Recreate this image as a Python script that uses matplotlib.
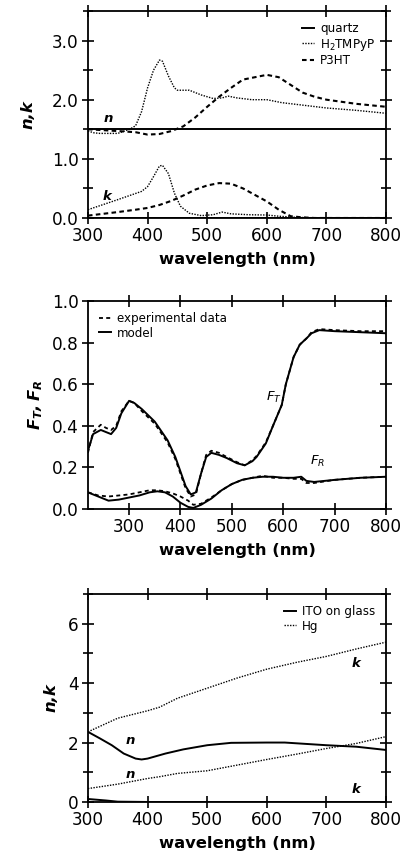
import numpy as np
import matplotlib
matplotlib.use("Agg")
import matplotlib.pyplot as plt
from matplotlib.ticker import MultipleLocator, FormatStrFormatter

plt.rcParams["font.family"] = ["DejaVu Sans"]
plt.rcParams["mathtext.fontset"] = "custom"
plt.rcParams["mathtext.rm"] = "DejaVu Sans"
plt.rcParams["mathtext.it"] = "DejaVu Sans:italic"
plt.rcParams["mathtext.bf"] = "DejaVu Sans:italic:bold"

# ---- panel 1: n,k of quartz, H2TMPyP, P3HT ----
wl_quartz = [300, 400, 500, 600, 700, 800]
n_quartz = [1.51, 1.51, 1.51, 1.51, 1.51, 1.51]
k_quartz = [0.0, 0.0, 0.0, 0.0, 0.0, 0.0]

wl_h2_n = [300, 310, 320, 350, 370, 380, 390, 400, 410, 420, 425, 435, 445, 450,
           470, 490, 510, 525, 535, 550, 575, 600, 625, 650, 700, 750, 800]
n_h2 = [1.47, 1.44, 1.43, 1.43, 1.50, 1.56, 1.80, 2.20, 2.50, 2.67, 2.65, 2.40, 2.20, 2.16,
        2.16, 2.08, 2.02, 2.03, 2.06, 2.03, 2.00, 2.00, 1.95, 1.92, 1.86, 1.82, 1.77]
wl_h2_k = [300, 350, 390, 400, 410, 420, 425, 435, 445, 455, 470, 490, 510, 525,
           540, 570, 600, 620, 650, 700, 800]
k_h2 = [0.14, 0.31, 0.45, 0.53, 0.70, 0.88, 0.89, 0.75, 0.42, 0.20, 0.08, 0.04, 0.055, 0.10,
        0.07, 0.055, 0.05, 0.03, 0.01, 0.0, 0.0]

wl_p3ht = [300, 350, 380, 400, 420, 440, 460, 480, 500, 520, 540, 560, 580, 600,
           620, 640, 660, 680, 700, 750, 800]
n_p3ht = [1.50, 1.47, 1.45, 1.41, 1.42, 1.47, 1.55, 1.70, 1.88, 2.05, 2.20, 2.34, 2.38, 2.42,
          2.38, 2.25, 2.12, 2.05, 2.00, 1.93, 1.88]
k_p3ht = [0.04, 0.10, 0.14, 0.17, 0.22, 0.29, 0.38, 0.48, 0.55, 0.59, 0.58, 0.50, 0.39, 0.28,
          0.14, 0.03, 0.01, 0.0, 0.0, 0.0, 0.0]

# ---- panel 2: F_T, F_R experimental vs model ----
wl_ft = [220, 230, 245, 255, 265, 275, 285, 300, 310, 325, 350, 375, 390, 400, 410, 420,
         430, 440, 450, 460, 475, 490, 510, 525, 540, 548, 566, 580, 597, 605, 620, 632,
         645, 655, 670, 700, 750, 800]
ft_model = [0.28, 0.36, 0.38, 0.37, 0.36, 0.39, 0.46, 0.52, 0.51, 0.48, 0.42, 0.33, 0.25, 0.18,
            0.11, 0.07, 0.08, 0.17, 0.25, 0.27, 0.26, 0.245, 0.22, 0.21, 0.23, 0.25, 0.315,
            0.40, 0.50, 0.60, 0.73, 0.79, 0.82, 0.845, 0.86, 0.855, 0.85, 0.845]
ft_exp = [0.27, 0.37, 0.405, 0.39, 0.38, 0.40, 0.47, 0.52, 0.51, 0.47, 0.41, 0.32, 0.24, 0.17,
          0.10, 0.06, 0.07, 0.17, 0.26, 0.28, 0.27, 0.25, 0.225, 0.21, 0.235, 0.255, 0.32,
          0.40, 0.50, 0.60, 0.73, 0.79, 0.82, 0.85, 0.865, 0.86, 0.855, 0.855]

wl_fr = [220, 240, 260, 280, 300, 320, 340, 355, 370, 385, 400, 415, 425, 440, 460, 480,
         500, 520, 540, 560, 580, 600, 620, 635, 645, 660, 700, 750, 800]
fr_model = [0.08, 0.06, 0.04, 0.045, 0.055, 0.065, 0.08, 0.085, 0.08, 0.06, 0.03, 0.01, 0.005,
            0.02, 0.05, 0.09, 0.12, 0.14, 0.15, 0.155, 0.155, 0.15, 0.15, 0.155, 0.135, 0.13,
            0.14, 0.15, 0.155]
fr_exp = [0.08, 0.065, 0.06, 0.065, 0.07, 0.08, 0.09, 0.09, 0.085, 0.075, 0.06, 0.04, 0.02,
          0.025, 0.055, 0.09, 0.12, 0.14, 0.15, 0.16, 0.15, 0.15, 0.145, 0.145, 0.125, 0.125,
          0.14, 0.15, 0.155]

# ---- panel 3: ITO on glass and Hg ----
wl_ito = [300, 320, 340, 360, 380, 390, 400, 430, 460, 500, 540, 600, 630, 700, 750, 800]
n_ito = [2.36, 2.14, 1.91, 1.63, 1.46, 1.43, 1.46, 1.63, 1.77, 1.91, 1.99, 2.0, 2.0, 1.91,
         1.86, 1.75]
wl_ito_k = [300, 330, 350, 400, 500, 600, 700, 800]
k_ito = [0.10, 0.05, 0.01, 0.0, 0.0, 0.0, 0.0, 0.0]

wl_hg = [300, 350, 400, 420, 450, 500, 550, 600, 650, 700, 750, 800]
n_hg = [0.45, 0.60, 0.79, 0.85, 0.96, 1.05, 1.24, 1.43, 1.61, 1.80, 1.97, 2.20]
k_hg = [2.36, 2.82, 3.07, 3.19, 3.49, 3.83, 4.17, 4.47, 4.70, 4.90, 5.15, 5.38]

TICK_FS = 12.2
LABEL_FS = 11.8
LEG_FS = 8.6
DOT = (0, (1, 1))
DASH = (0, (2.2, 1.6))
DASH2 = (0, (2.2, 1.8))


def style_axes(ax):
    for sp in ax.spines.values():
        sp.set_linewidth(1.3)
    ax.tick_params(which="both", direction="inout", top=True, right=True,
                   width=1.2, labelsize=TICK_FS, pad=2)
    ax.tick_params(which="major", length=9)
    ax.tick_params(which="minor", length=7)
    ax.set_xlabel("wavelength (nm)", fontsize=LABEL_FS, fontweight="bold", labelpad=5)


def add_legend(ax, loc):
    ax.legend(loc=loc, frameon=False, fontsize=LEG_FS, handlelength=1.0,
              handletextpad=0.5, labelspacing=0.15, borderaxespad=0.5)


fig = plt.figure(figsize=(4.09, 8.64), dpi=100)
ax1 = fig.add_axes([0.215, 0.7477, 0.729, 0.2396])
ax2 = fig.add_axes([0.215, 0.4109, 0.729, 0.2407])
ax3 = fig.add_axes([0.215, 0.0718, 0.729, 0.2407])

# panel 1
ax1.plot(wl_quartz, n_quartz, "k-", lw=1.4, label="quartz")
ax1.plot(wl_h2_n, n_h2, color="k", ls=DOT, lw=1.0, label="H$_2$TMPyP")
ax1.plot(wl_p3ht, n_p3ht, color="k", ls=DASH, lw=1.5, label="P3HT")
ax1.plot(wl_quartz, k_quartz, "k-", lw=1.4)
ax1.plot(wl_h2_k, k_h2, color="k", ls=DOT, lw=1.0)
ax1.plot(wl_p3ht, k_p3ht, color="k", ls=DASH, lw=1.5)
ax1.text(327, 1.62, "n", fontsize=9.5, style="italic", fontweight="bold")
ax1.text(325, 0.30, "k", fontsize=9.5, style="italic", fontweight="bold")
ax1.set_xlim(300, 800)
ax1.set_ylim(0, 3.5)
ax1.xaxis.set_major_locator(MultipleLocator(100))
ax1.yaxis.set_major_locator(MultipleLocator(1.0))
ax1.yaxis.set_minor_locator(MultipleLocator(0.5))
ax1.yaxis.set_major_formatter(FormatStrFormatter("%.1f"))
ax1.set_ylabel("n,k", fontsize=LABEL_FS, fontweight="bold", style="italic", labelpad=12)
add_legend(ax1, "upper right")
style_axes(ax1)

# panel 2
ax2.plot(wl_ft, ft_exp, color="k", ls=DASH2, lw=1.3, label="experimental data")
ax2.plot(wl_ft, ft_model, "k-", lw=1.4, label="model")
ax2.plot(wl_fr, fr_exp, color="k", ls=DASH2, lw=1.3)
ax2.plot(wl_fr, fr_model, "k-", lw=1.4)
ax2.text(567, 0.52, "$F_T$", fontsize=9.5)
ax2.text(652, 0.21, "$F_R$", fontsize=9.5)
ax2.set_xlim(220, 800)
ax2.set_ylim(0, 1.0)
ax2.xaxis.set_major_locator(MultipleLocator(100))
ax2.yaxis.set_major_locator(MultipleLocator(0.2))
ax2.yaxis.set_major_formatter(FormatStrFormatter("%.1f"))
ax2.set_ylabel(r"$\mathbf{F_T,F_R}$", fontsize=LABEL_FS, labelpad=5)
add_legend(ax2, "upper left")
style_axes(ax2)

# panel 3
ax3.plot(wl_ito, n_ito, "k-", lw=1.4, label="ITO on glass")
ax3.plot(wl_hg, n_hg, color="k", ls=DOT, lw=1.0, label="Hg")
ax3.plot(wl_ito_k, k_ito, "k-", lw=1.4)
ax3.plot(wl_hg, k_hg, color="k", ls=DOT, lw=1.0)
ax3.text(363, 1.95, "n", fontsize=9.5, style="italic", fontweight="bold")
ax3.text(363, 0.80, "n", fontsize=9.5, style="italic", fontweight="bold")
ax3.text(742, 4.55, "k", fontsize=9.5, style="italic", fontweight="bold")
ax3.text(742, 0.30, "k", fontsize=9.5, style="italic", fontweight="bold")
ax3.set_xlim(300, 800)
ax3.set_ylim(0, 7)
ax3.xaxis.set_major_locator(MultipleLocator(100))
ax3.yaxis.set_major_locator(MultipleLocator(2))
ax3.yaxis.set_minor_locator(MultipleLocator(1))
ax3.set_ylabel("n,k", fontsize=LABEL_FS, fontweight="bold", style="italic", labelpad=7)
add_legend(ax3, "upper right")
style_axes(ax3)

fig.savefig("out.png", dpi=100)
